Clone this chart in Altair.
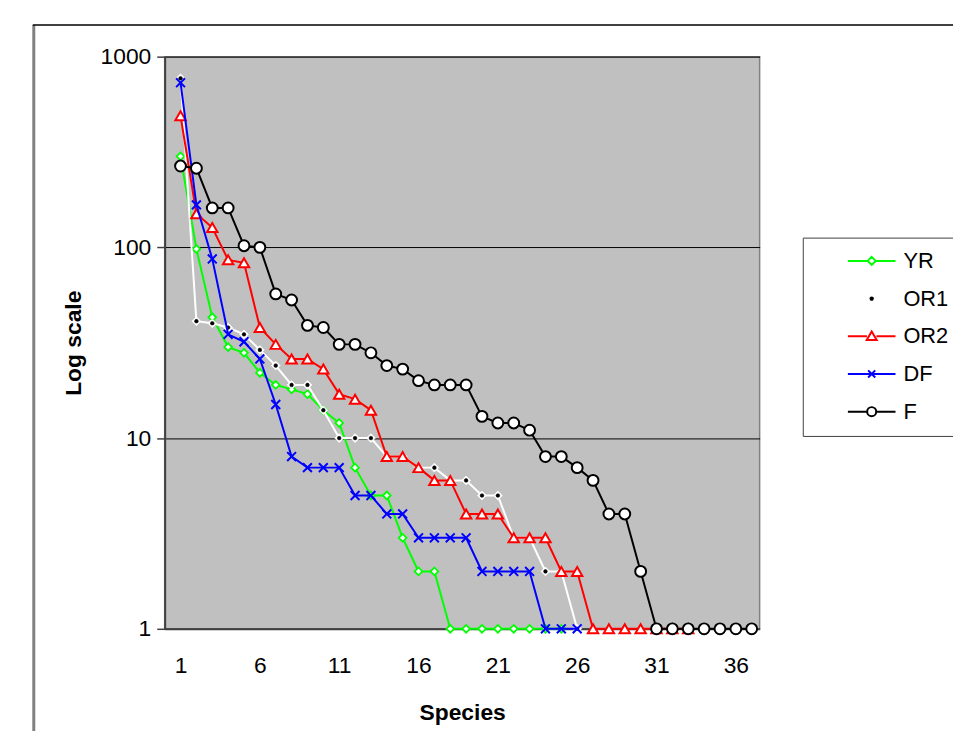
import altair as alt
import pandas as pd

series_names = ["YR", "OR1", "OR2", "DF", "F"]
yr = [300, 98, 43, 30, 28, 22, 19, 18, 17, 14, 12, 7, 5, 5, 3, 2, 2, 1, 1, 1, 1, 1, 1, 1, 1]
or1 = [770, 41, 40, 38, 35, 29, 24, 19, 19, 14, 10, 10, 10, 8, 8, 7, 7, 6, 6, 5, 5, 3, 3, 2, 2, 1]
or2 = [490, 150, 127, 86, 83, 38, 31, 26, 26, 23, 17, 16, 14, 8, 8, 7, 6, 6, 4, 4, 4, 3, 3, 3, 2, 2,
       1, 1, 1, 1, 1, 1, 1]
dfv = [730, 167, 87, 35, 32, 26, 15, 8, 7, 7, 7, 5, 5, 4, 4, 3, 3, 3, 3, 2, 2, 2, 2, 1, 1, 1]
fv = [267, 260, 161, 161, 102, 100, 57, 53, 39, 38, 31, 31, 28, 24, 23, 20, 19, 19, 19, 13, 12, 12, 11,
      8, 8, 7, 6, 4, 4, 2, 1, 1, 1, 1, 1, 1, 1]
values = {"YR": yr, "OR1": or1, "OR2": or2, "DF": dfv, "F": fv}
x_ticks = [1, 6, 11, 16, 21, 26, 31, 36]
y_ticks = [1, 10, 100, 1000]

line_colors = ["#00FF00", "#FFFFFF", "#FF0000", "#0000FF", "#000000"]
legend_strokes = ["#00FF00", "#000000", "#FF0000", "#0000FF", "#000000"]
legend_fills = ["#FFFFFF", "#000000", "#FFFFFF", "transparent", "#FFFFFF"]
legend_paths = [
    "M-1,0H-0.17M0.17,0H1M0,-0.17L0.17,0L0,0.17L-0.17,0Z",
    "M0.05,0A0.05,0.05 0 1,1 -0.05,0A0.05,0.05 0 1,1 0.05,0Z",
    "M-1,0H-0.2M0.2,0H1M0,-0.2L0.21,0.16L-0.21,0.16Z",
    "M-1,0H1M-0.15,-0.15L0.15,0.15M-0.15,0.15L0.15,-0.15",
    "M-1,0H-0.19M0.19,0H1M0.19,0A0.19,0.19 0 1,1 -0.19,0A0.19,0.19 0 1,1 0.19,0Z",
]

FONT = "Liberation Sans"

X = alt.X("Species:Q", scale=alt.Scale(domain=[0, 37.5], nice=False, zero=False),
          axis=alt.Axis(values=x_ticks, ticks=False, grid=False, domainColor="#404040", domainWidth=2,
                        labelFontSize=23, labelFont=FONT, labelPadding=26, labelColor="black",
                        title="Species", titleFont=FONT, titleFontSize=23, titleFontWeight="bold",
                        titlePadding=24, titleColor="black"))
Y = alt.Y("Value:Q", scale=alt.Scale(type="log", domain=[1, 1000], nice=False),
          axis=alt.Axis(values=y_ticks, format="d", tickSize=8, tickColor="#404040", tickWidth=1.5,
                        domainColor="#404040", domainWidth=2, grid=True, gridColor="black", gridWidth=1,
                        labelFontSize=23, labelFont=FONT, labelPadding=6, labelColor="black",
                        title="Log scale", titleFont=FONT, titleFontSize=23, titleFontWeight="bold",
                        titlePadding=15, titleColor="black"))

layers = []

frame = pd.DataFrame({"k": [0]})
layers.append(alt.Chart(frame).mark_rule(color="#808080", strokeWidth=3).encode(
    x=alt.value(-132), y=alt.value(-32), y2=alt.value(700)))
layers.append(alt.Chart(frame).mark_rule(color="black", strokeWidth=1.5).encode(
    x=alt.value(-133), x2=alt.value(900), y=alt.value(-32)))

point_styles = {
    "YR": [dict(shape="diamond", size=62, fill="white", stroke="#00FF00", strokeWidth=1.8)],
    "OR1": [dict(shape="diamond", size=75, fill="white", stroke="white", strokeWidth=1),
            dict(shape="circle", size=14, fill="black", stroke="black", strokeWidth=0.5)],
    "OR2": [dict(shape="triangle-up", size=110, fill="white", stroke="#FF0000", strokeWidth=2)],
    "DF": [dict(shape="M-1,-1L1,1M-1,1L1,-1", size=80, fill="transparent", stroke="#0000FF", strokeWidth=2)],
    "F": [dict(shape="circle", size=120, fill="white", stroke="black", strokeWidth=2)],
}

for name, col in zip(series_names, line_colors):
    vals = values[name]
    d = pd.DataFrame({"Species": list(range(1, len(vals) + 1)), "Value": vals})
    layers.append(alt.Chart(d).mark_line(color=col, strokeWidth=2).encode(x=X, y=Y))
    for st in point_styles[name]:
        layers.append(alt.Chart(d).mark_point(filled=True, opacity=1, **st).encode(x=X, y=Y))

# legend box
layers.append(alt.Chart(frame).mark_rect(fill="white", stroke="#404040", strokeWidth=1).encode(
    x=alt.value(644), x2=alt.value(900), y=alt.value(183), y2=alt.value(383)))

leg = pd.DataFrame({"series": series_names, "Species": [1] * 5, "Value": [1] * 5})
legend_def = alt.Legend(title=None, orient="none", legendX=688, legendY=181, padding=0,
                        symbolSize=2304, symbolStrokeWidth=2, symbolOpacity=1,
                        labelFontSize=22, labelFont=FONT, labelColor="black", labelOffset=7,
                        rowPadding=2)
layers.append(alt.Chart(leg).mark_point(filled=True, opacity=0).encode(
    x=X, y=Y,
    stroke=alt.Stroke("series:N", scale=alt.Scale(domain=series_names, range=legend_strokes), legend=legend_def),
    fill=alt.Fill("series:N", scale=alt.Scale(domain=series_names, range=legend_fills), legend=legend_def),
    shape=alt.Shape("series:N", scale=alt.Scale(domain=series_names, range=legend_paths), legend=legend_def),
))

chart = alt.layer(*layers).properties(
    width=600, height=577,
    autosize=alt.AutoSizeParams(type="none"),
    padding={"left": 158, "top": 46, "right": 195, "bottom": 100},
).configure_view(fill="#C0C0C0", stroke="#808080", strokeWidth=1.5)

chart.save("out.html", embed_options={"renderer": "svg", "actions": False})
